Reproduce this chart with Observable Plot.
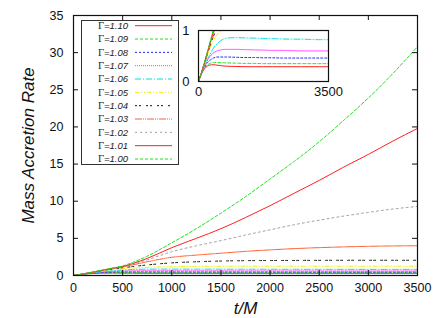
<!DOCTYPE html>
<html>
<head>
<meta charset="utf-8">
<script src="https://cdn.jsdelivr.net/npm/d3@7"></script>
<script src="https://cdn.jsdelivr.net/npm/@observablehq/plot@0.6"></script>
<style>
  html, body { margin: 0; padding: 0; background: #fff; }
  #wrap { position: relative; width: 436px; height: 318px; font-family: "Liberation Sans", Arial, sans-serif; }
  #wrap svg { position: absolute; overflow: visible; }
  #main g[aria-label="y-axis label"] text, #main g[aria-label="x-axis label"] text { font-size: 17px; font-style: italic; fill: #111; }
  #legend { position: absolute; left: 81px; top: 20px; }
</style>
</head>
<body>
<div id="wrap"></div>
<script>
// ---- data ----
const gammas = ["1.10", "1.09", "1.08", "1.07", "1.06", "1.05", "1.04", "1.03", "1.02", "1.01", "1.00"];
const tGrid = [0, 100, 200, 300, 400, 500, 600, 750, 1000, 1250, 1500, 1750, 2000, 2250, 2500, 2750, 3000, 3250, 3500];
const g110 = [0, 0.18, 0.28, 0.32, 0.33, 0.32, 0.31, 0.30, 0.295, 0.29, 0.29, 0.29, 0.29, 0.29, 0.29, 0.29, 0.29, 0.29, 0.29];
const g109 = [0, 0.18, 0.30, 0.35, 0.37, 0.37, 0.37, 0.365, 0.36, 0.355, 0.355, 0.35, 0.35, 0.35, 0.35, 0.35, 0.35, 0.35, 0.35];
const g108 = [0, 0.19, 0.33, 0.41, 0.46, 0.48, 0.48, 0.48, 0.475, 0.47, 0.47, 0.465, 0.465, 0.46, 0.46, 0.46, 0.46, 0.46, 0.46];
const g107 = [0, 0.20, 0.36, 0.48, 0.56, 0.60, 0.62, 0.63, 0.63, 0.625, 0.62, 0.615, 0.61, 0.61, 0.605, 0.60, 0.60, 0.60, 0.60];
const g106 = [0, 0.20, 0.38, 0.52, 0.65, 0.74, 0.80, 0.85, 0.86, 0.855, 0.85, 0.845, 0.84, 0.835, 0.83, 0.83, 0.825, 0.82, 0.82];
const g105 = [0, 0.21, 0.43, 0.63, 0.80, 0.92, 1.00, 1.10, 1.18, 1.22, 1.24, 1.25, 1.25, 1.25, 1.25, 1.25, 1.25, 1.25, 1.25];
const g104 = [0, 0.22, 0.45, 0.68, 0.88, 1.05, 1.20, 1.42, 1.70, 1.85, 1.95, 2.00, 2.02, 2.03, 2.04, 2.05, 2.05, 2.05, 2.05];
const g103 = [0, 0.22, 0.46, 0.71, 0.94, 1.15, 1.42, 1.85, 2.45, 2.75, 3.00, 3.25, 3.45, 3.62, 3.75, 3.85, 3.93, 3.98, 4.00];
const g102 = [0, 0.22, 0.47, 0.72, 0.96, 1.18, 1.50, 2.10, 3.20, 4.00, 4.70, 5.45, 6.15, 6.85, 7.45, 8.00, 8.50, 8.95, 9.30];
const g101 = [0, 0.22, 0.47, 0.73, 0.98, 1.22, 1.60, 2.30, 3.75, 5.00, 6.30, 7.80, 9.40, 11.10, 12.80, 14.60, 16.30, 18.10, 19.80];
const g100 = [0, 0.22, 0.48, 0.75, 1.02, 1.30, 1.75, 2.60, 4.40, 6.30, 8.40, 10.60, 13.00, 15.40, 18.00, 20.90, 23.90, 27.20, 30.80];
const seriesValues = [g110, g109, g108, g107, g106, g105, g104, g103, g102, g101, g100];
const xTicks = [0, 500, 1000, 1500, 2000, 2500, 3000, 3500];
const yTicks = [0, 5, 10, 15, 20, 25, 30, 35];
const insetXTicks = [0, 3500];
const insetYTicks = [0, 1];

// ---- styles (gnuplot-like) ----
const styles = [
  {stroke: "#ff2020", dash: null},
  {stroke: "#20e020", dash: "3,2"},
  {stroke: "#2020ff", dash: "2,2"},
  {stroke: "#ff30ff", dash: "1,1"},
  {stroke: "#00e0e0", dash: "6,2,1,2"},
  {stroke: "#f0f000", dash: "4,2,1,2,1,2"},
  {stroke: "#111111", dash: "2,2,2,5"},
  {stroke: "#ff6030", dash: "7,1,1,1,1,1"},
  {stroke: "#a0a0a0", dash: "2,3"},
  {stroke: "#ff2020", dash: null},
  {stroke: "#20e020", dash: "3,2"}
];

const rows = [];
gammas.forEach((g, i) => tGrid.forEach((t, j) => rows.push({g, t, v: seriesValues[i][j]})));

function lineMarks(clip) {
  return gammas.map((g, i) => Plot.line(rows.filter(d => d.g === g), {
    x: "t", y: "v", stroke: styles[i].stroke, strokeDasharray: styles[i].dash,
    strokeWidth: 1, curve: "monotone-x", clip
  }));
}

const fmt = d3.format("d");
const W = 436, H = 318;
const mL = 73, mR = 19, mT = 15, mB = 43;
const innerW = W - mL - mR, innerH = H - mT - mB;
const tick = 5;

const main = Plot.plot({
  width: W, height: H,
  marginLeft: mL, marginRight: mR, marginTop: mT, marginBottom: mB,
  style: {fontFamily: "Liberation Sans, Arial, sans-serif", fontSize: "12.5px", color: "#111", background: "transparent"},
  x: {domain: [0, 3500]},
  y: {domain: [0, 35]},
  marks: [
    ...lineMarks(false),
    Plot.tickX(xTicks, {x: d => d, insetTop: innerH - tick, stroke: "#111"}),
    Plot.tickX(xTicks, {x: d => d, insetBottom: innerH - tick, stroke: "#111"}),
    Plot.tickY(yTicks, {y: d => d, insetRight: innerW - tick, stroke: "#111"}),
    Plot.tickY(yTicks, {y: d => d, insetLeft: innerW - tick, stroke: "#111"}),
    Plot.axisX({ticks: xTicks, tickFormat: fmt, tickSize: 0, tickPadding: 8, label: "t/M", labelAnchor: "center", labelArrow: "none", labelOffset: 38}),
    Plot.axisY({ticks: yTicks, tickFormat: fmt, tickSize: 0, tickPadding: 10, label: "Mass Accretion Rate", labelAnchor: "center", labelArrow: "none", labelOffset: 52}),
    Plot.frame({stroke: "#111", strokeWidth: 1.2})
  ]
});
main.id = "main";
main.style.left = "0px"; main.style.top = "0px";

const iL = 170, iT = 20, iW = 180, iH = 85;
const inset = Plot.plot({
  width: iW, height: iH,
  marginLeft: 28, marginRight: 22, marginTop: 10, marginBottom: 24,
  style: {fontFamily: "Liberation Sans, Arial, sans-serif", fontSize: "13px", color: "#111", background: "transparent"},
  x: {domain: [0, 3500]},
  y: {domain: [0, 1]},
  marks: [
    Plot.frame({fill: "white"}),
    ...lineMarks(true),
    Plot.axisX({ticks: insetXTicks, tickFormat: fmt, tickSize: 0, tickPadding: 5, label: null}),
    Plot.axisY({ticks: insetYTicks, tickFormat: fmt, tickSize: 0, tickPadding: 9, label: null}),
    Plot.frame({stroke: "#111", strokeWidth: 1.2})
  ]
});
inset.style.left = iL + "px"; inset.style.top = iT + "px";

const wrap = document.getElementById("wrap");
wrap.appendChild(main);
wrap.appendChild(inset);

// ---- legend ----
const lw = 98, lh = 145;
const leg = d3.create("svg").attr("id", "legend").attr("width", lw).attr("height", lh);
leg.append("rect").attr("x", 0.5).attr("y", 0.5).attr("width", lw - 1).attr("height", lh - 1)
  .attr("fill", "white").attr("stroke", "#333").attr("stroke-width", 1);
gammas.forEach((g, i) => {
  const y = 5.7 + i * 13.33;
  const t = leg.append("text").attr("x", 47).attr("y", y).attr("dy", "0.35em")
    .attr("text-anchor", "end").attr("fill", "#222").attr("font-size", "9.5px");
  t.append("tspan").attr("font-family", "Liberation Serif, serif").attr("font-size", "10.5px").text("Γ");
  t.append("tspan").attr("font-family", "Liberation Sans, Arial, sans-serif").attr("font-style", "italic").text("=" + g);
  leg.append("line").attr("x1", 54).attr("x2", 91).attr("y1", y).attr("y2", y)
    .attr("stroke", styles[i].stroke).attr("stroke-width", 1)
    .attr("stroke-dasharray", styles[i].dash);
});
wrap.appendChild(leg.node());
</script>
</body>
</html>
